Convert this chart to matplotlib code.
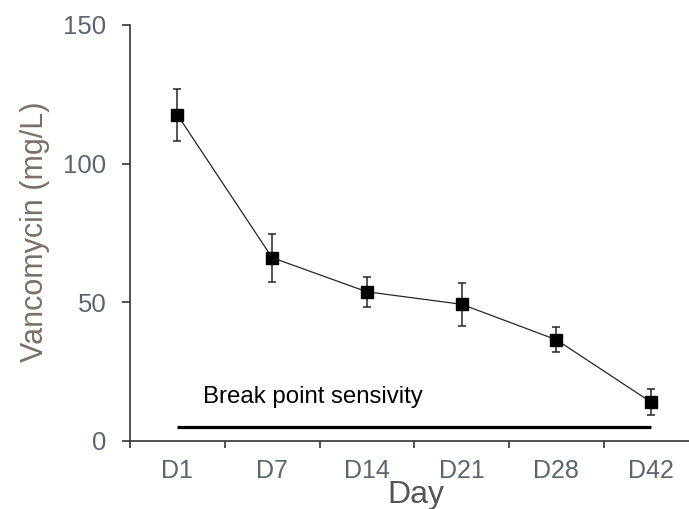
import matplotlib
matplotlib.use('Agg')
import matplotlib.pyplot as plt

# vancomycin levels
days = ['D1', 'D7', 'D14', 'D21', 'D28', 'D42']
mean_mgl = [117.6, 66.1, 53.8, 49.3, 36.5, 14.0]
err_mgl = [9.4, 8.6, 5.4, 7.8, 4.5, 4.6]
breakpoint_mgl = 5.2
breakpoint_label = 'Break point sensivity'

plt.rcParams['font.family'] = ['Liberation Sans', 'DejaVu Sans']

fig = plt.figure(figsize=(6.89, 5.09), dpi=100)
ax = fig.add_axes([0.1887, 0.1336, 0.8113, 0.8173])

x = list(range(len(days)))
ax.errorbar(x, mean_mgl, yerr=err_mgl, fmt='s-', color='#262626', mfc='black',
            mec='black', ms=8.5, lw=0.9, elinewidth=1.1, ecolor='#262626',
            capsize=3, capthick=1.1, zorder=3)

ax.plot([x[0], x[-1]], [breakpoint_mgl, breakpoint_mgl], color='black', lw=2.3,
        solid_capstyle='butt')
ax.text(0.27, 13.7, breakpoint_label, fontsize=17.3, color='black',
        ha='left', va='baseline')

ax.set_xlim(-0.5, 5.4)
ax.set_ylim(0, 150)
ax.set_yticks([0, 50, 100, 150])
ax.set_xticks([i - 0.5 for i in x])
ax.set_xticklabels([])
ax.set_xticks(x, minor=True)
ax.set_xticklabels(days, minor=True)

tick_col = '#5c6470'
ax.tick_params(axis='y', direction='out', length=6, width=1.2, color='#333333',
               labelsize=18.5, labelcolor=tick_col, pad=11)
ax.tick_params(axis='x', which='major', direction='out', length=5, width=1.2,
               color='#333333')
ax.tick_params(axis='x', which='minor', length=0, labelsize=18,
               labelcolor=tick_col, pad=13)

for side in ['top', 'right']:
    ax.spines[side].set_visible(False)
for side in ['left', 'bottom']:
    ax.spines[side].set_color('#333333')
    ax.spines[side].set_linewidth(1.2)

ax.set_ylabel('Vancomycin (mg/L)', fontsize=22, color='#7a706a')
ax.yaxis.set_label_coords(-0.143, 0.502)
ax.set_xlabel('Day', fontsize=23, color='#555555')
ax.xaxis.set_label_coords(0.512, -0.093)

fig.savefig('out.png', dpi=100)
